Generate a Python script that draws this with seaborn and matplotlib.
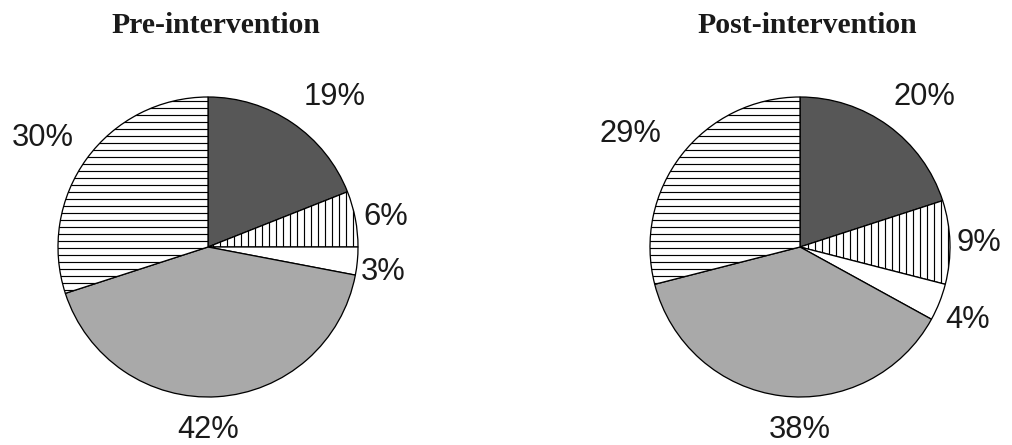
import matplotlib
matplotlib.use("Agg")
import matplotlib.pyplot as plt
import numpy as np
import seaborn as sns

# Share of each group before and after the intervention (percent)
groups = ["Group 1", "Group 2", "Group 3", "Group 4", "Group 5"]
pre_values = [19, 6, 3, 42, 30]
post_values = [20, 9, 4, 38, 29]
titles = ["Pre-intervention", "Post-intervention"]

sns.set_theme(style="white")
plt.rcParams["hatch.color"] = "black"
plt.rcParams["hatch.linewidth"] = 1.0

DPI = 84
W, H = 1012, 445
fig = plt.figure(figsize=(W / DPI, H / DPI), dpi=DPI, facecolor="white")

# slice styling, in drawing order (clockwise from 12 o'clock)
face_colors = ["#575757", "white", "white", "#a9a9a9", "white"]
hatches = [None, "||", None, None, "--"]

# label placement: radial distance (in radii) and angular nudge (degrees)
label_dist = [
    [1.31, 1.20, 1.18, 1.22, 1.32],
    [1.30, 1.19, 1.22, 1.22, 1.36],
]
label_nudge = [
    [-6.0, -1.2, -2.7, -3.6, 2.7],
    [-3.8, -0.5, -1.9, 7.2, 4.0],
]

R_PX = 150          # pie radius in pixels
AX_PX = 400         # axes box size in pixels
centers_x = [208, 800]
center_y = 247      # from top
title_x = [216, 807]

for k, values in enumerate([pre_values, post_values]):
    cx = centers_x[k]
    left = (cx - AX_PX / 2) / W
    bottom = ((H - center_y) - AX_PX / 2) / H
    ax = fig.add_axes([left, bottom, AX_PX / W, AX_PX / H])
    wedges, _ = ax.pie(
        values,
        startangle=90,
        counterclock=False,
        colors=face_colors,
        wedgeprops=dict(edgecolor="black", linewidth=1.1),
        radius=1.0,
    )
    for w, h in zip(wedges, hatches):
        if h:
            w.set_hatch(h)
    lim = AX_PX / 2 / R_PX
    ax.set_xlim(-lim, lim)
    ax.set_ylim(-lim, lim)
    ax.set_aspect("equal")
    ax.axis("off")

    for i, (w, v) in enumerate(zip(wedges, values)):
        ang = np.deg2rad((w.theta1 + w.theta2) / 2 + label_nudge[k][i])
        d = label_dist[k][i]
        ax.text(d * np.cos(ang), d * np.sin(ang), f"{v}%",
                ha="center", va="center", fontsize=26.5,
                family="Liberation Sans", color="#1a1a1a", clip_on=False)

    fig.text(title_x[k] / W, (H - 33) / H, titles[k], ha="center",
             va="baseline", fontsize=25.5, fontweight="bold",
             family="Liberation Serif", color="#1a1a1a")

fig.savefig("out.png", dpi=DPI, facecolor="white")
